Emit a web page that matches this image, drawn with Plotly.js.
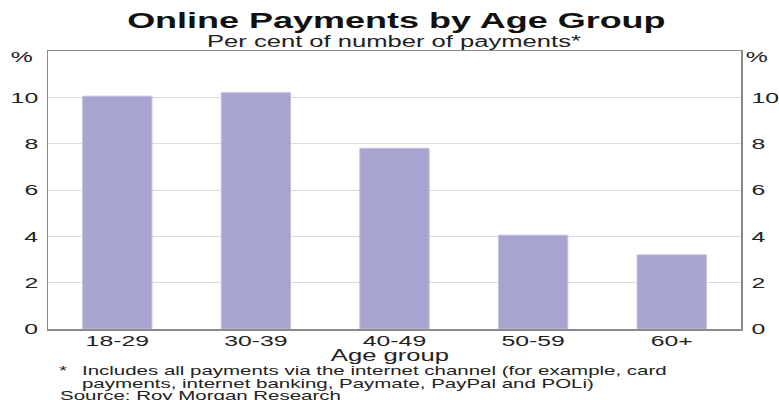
<!DOCTYPE html>
<html>
<head>
<meta charset="utf-8">
<script src="https://cdn.plot.ly/plotly-3.0.1.min.js"></script>
<style>html,body{margin:0;padding:0;background:#fff;}#chart{width:779px;height:400px;}</style>
</head>
<body>
<div id="chart"></div>
<script>
const categories = ["18-29", "30-39", "40-49", "50-59", "60+"];
const values = [10.05, 10.2, 7.8, 4.05, 3.2];
const tickVals = [0, 2, 4, 6, 8, 10];
const tickText = ["0", "2", "4", "6", "8", "10"];

const W = 779, H = 400;
const L = 48, R = 741, T = 51, B = 329;
const SX = 1.6; // horizontal stretch of the lettering in the reference
const px = x => (x - L) / (R - L);
const py = y => (B - y) / (B - T);
const font = "Liberation Sans, Arial, sans-serif";

const data = [
  {
    type: "bar", x: categories, y: values,
    marker: {color: "#a7a4cf", line: {color: "#c3c0e2", width: 1}},
    width: 0.5, hoverinfo: "none"
  },
  {
    type: "scatter", x: categories, y: values, yaxis: "y2",
    mode: "markers", marker: {opacity: 0}, hoverinfo: "none", showlegend: false
  }
];

function ann(text, x, y, opts) {
  return Object.assign({
    text: text, xref: "paper", yref: "paper", x: px(x), y: py(y),
    showarrow: false, font: {family: font, size: 14.5, color: "#222"},
    xanchor: "center", yanchor: "middle", align: "center"
  }, opts || {});
}

const tf = {family: font, size: 15.5, color: "#222"};
const fn = {family: font, size: 12.8, color: "#222"};

const layout = {
  width: W, height: H,
  margin: {l: L, r: W - R, t: T, b: H - B, pad: 0},
  paper_bgcolor: "#fff", plot_bgcolor: "#fff",
  showlegend: false, bargap: 0.5,
  font: {family: font, color: "#222"},
  xaxis: {
    type: "category", showgrid: false, zeroline: false,
    showline: true, linecolor: "#8a8a8a", linewidth: 1.5, mirror: true,
    ticks: "", ticklabelstandoff: -3, tickfont: tf,
    fixedrange: true
  },
  yaxis: {
    range: [0, 12], tickvals: tickVals, ticktext: tickText,
    showgrid: true, gridcolor: "#dcdcdc", gridwidth: 1, zeroline: false,
    showline: true, linecolor: "#8a8a8a", linewidth: 1.5,
    ticks: "", ticklabelstandoff: 5, tickfont: tf,
    fixedrange: true
  },
  yaxis2: {
    range: [0, 12], tickvals: tickVals, ticktext: tickText,
    overlaying: "y", side: "right", showgrid: false, zeroline: false,
    showline: true, linecolor: "#8a8a8a", linewidth: 1.5,
    ticks: "", ticklabelstandoff: 6, tickfont: tf,
    fixedrange: true
  },
  annotations: [
    ann("<b>Online Payments by Age Group</b>", 396, 20, {font: {family: font, size: 22.5, color: "#111"}}),
    ann("Per cent of number of payments*", 394, 42, {font: {family: font, size: 16, color: "#222"}}),
    ann("%", 22, 57, {font: tf}),
    ann("%", 757, 57, {font: tf}),
    ann("Age group", 390, 355, {font: {family: font, size: 16, color: "#222"}}),
    ann("*", 57, 370, {xanchor: "left", align: "left", font: fn}),
    ann("Includes all payments via the internet channel (for example, card", 80, 370, {xanchor: "left", align: "left", font: fn}),
    ann("payments, internet banking, Paymate, PayPal and POLi)", 80, 383, {xanchor: "left", align: "left", font: fn}),
    ann("Source: Roy Morgan Research", 58, 395, {xanchor: "left", align: "left", font: fn})
  ]
};

function stretchText() {
  document.querySelectorAll("#chart svg text").forEach(t => {
    if (t.dataset.stretched) return;
    const bb = t.getBBox();
    const anchor = t.getAttribute("text-anchor") || t.style.textAnchor || "start";
    let p = bb.x + bb.width / 2;
    if (anchor === "start") p = bb.x;
    else if (anchor === "end") p = bb.x + bb.width;
    const cur = t.getAttribute("transform") || "";
    t.setAttribute("transform", cur + " translate(" + p + ",0) scale(" + SX + ",1) translate(" + (-p) + ",0)");
    t.dataset.stretched = "1";
  });
}

Plotly.newPlot("chart", data, layout, {displayModeBar: false, staticPlot: true}).then(stretchText);
</script>
</body>
</html>
